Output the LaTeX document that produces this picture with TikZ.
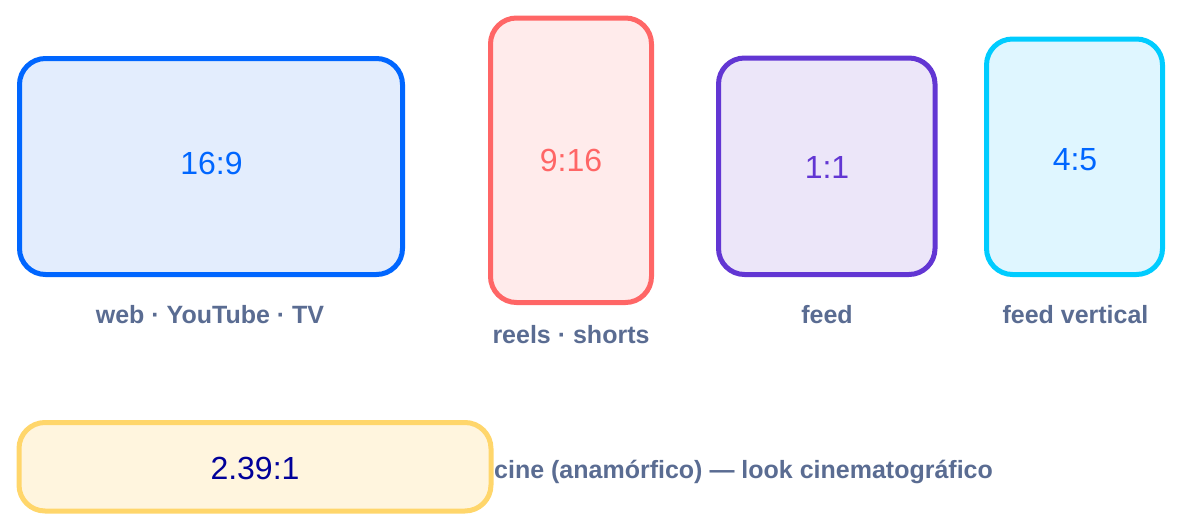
\documentclass[tikz,border=0pt]{standalone}
\usepackage{fontspec}
\setmainfont{Liberation Sans}
\definecolor{cblue}{HTML}{0066FF}
\definecolor{fblue}{HTML}{E3EDFD}
\definecolor{cred}{HTML}{FF6666}
\definecolor{fred}{HTML}{FFEBEB}
\definecolor{cpurple}{HTML}{6236D3}
\definecolor{fpurple}{HTML}{ECE6F9}
\definecolor{ccyan}{HTML}{00CCFF}
\definecolor{fcyan}{HTML}{DFF6FF}
\definecolor{cyellow}{HTML}{FFD66B}
\definecolor{fyellow}{HTML}{FFF5DE}
\definecolor{cnavy}{HTML}{000099}
\definecolor{cgray}{HTML}{5A6C92}
\begin{document}
\begin{tikzpicture}[x=1pt,y=-1pt,
  ratiobox/.style={draw, line width=5pt, rounded corners=26pt, inner sep=0pt},
  ratiotext/.style={inner sep=0pt, font=\fontsize{32}{36}\selectfont},
  caption/.style={text=cgray, font=\bfseries\fontsize{25}{28}\selectfont, inner sep=0pt, anchor=base}]
\useasboundingbox (0,0) rectangle (1182,530);
\node[ratiobox, draw=cblue, fill=fblue, minimum width=383pt, minimum height=216pt] (b169) at (211,166.5) {};
\node[ratiobox, draw=cred, fill=fred, minimum width=161pt, minimum height=284.5pt] (b916) at (571,160.25) {};
\node[ratiobox, draw=cpurple, fill=fpurple, minimum width=216.5pt, minimum height=216.5pt] (b11) at (826.75,166.25) {};
\node[ratiobox, draw=ccyan, fill=fcyan, minimum width=176pt, minimum height=235.5pt] (b45) at (1074.5,156.75) {};
\node[ratiobox, draw=cyellow, fill=fyellow, minimum width=472pt, minimum height=88.5pt] (b239) at (255,466.75) {};
\node[ratiotext, text=cblue] (t169) at (211.5,163.5) {16:9};
\node[ratiotext, text=cred] (t916) at (571,160) {9:16};
\node[ratiotext, text=cpurple] (t11) at (827,167.5) {1:1};
\node[ratiotext, text=cblue] (t45) at (1075,159.5) {4:5};
\node[ratiotext, text=cnavy] (t239) at (255,468) {2.39:1};
\node[caption] (l169) at (210,323) {web · YouTube · TV};
\node[caption] (l916) at (571,343) {reels · shorts};
\node[caption] (l11) at (827,323) {feed};
\node[caption] (l45) at (1075.5,323) {feed vertical};
\node[caption, anchor=base west] (l239) at (494,478) {cine (anamórfico) — look cinematográfico};
\end{tikzpicture}
\end{document}
